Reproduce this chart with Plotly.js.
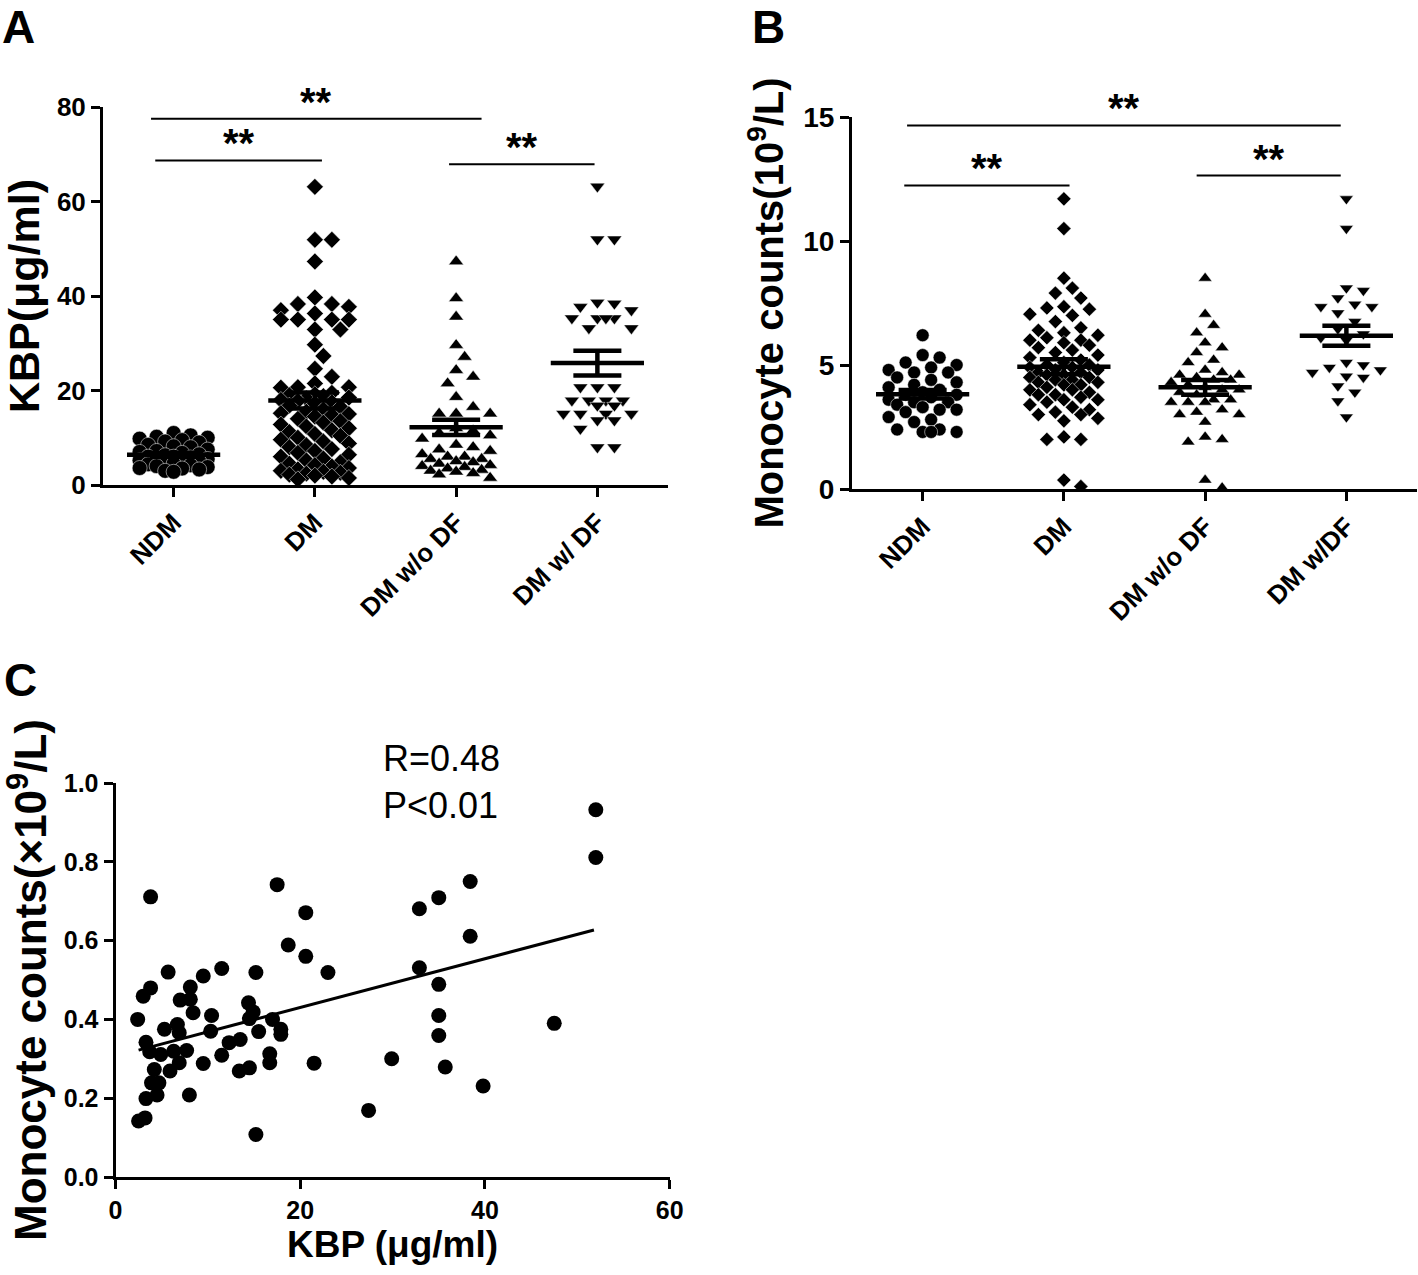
<!DOCTYPE html>
<html><head><meta charset="utf-8">
<script src="https://cdn.plot.ly/plotly-3.0.1.min.js"></script>
<style>html,body{margin:0;padding:0;background:#fff}#chart{width:1418px;height:1275px}</style>
</head><body><div id="chart"></div>
<script>
// ---------- data ----------
const categoriesA = ['NDM', 'DM', 'DM w/o DF', 'DM w/ DF'];
const categoriesB = ['NDM', 'DM', 'DM w/o DF', 'DM w/DF'];

// Panel A: KBP (µg/ml)
const kbpNDM = [11.0, 10.5, 10.2, 10.0, 9.8, 9.5, 9.2, 9.0, 8.5, 8.2, 8.0, 7.5, 7.2, 7.0, 6.8, 6.5, 6.3, 6.0, 6.0, 5.8,
  5.5, 5.4, 5.2, 5.0, 5.0, 4.8, 4.5, 4.4, 4.2, 4.0, 3.8, 3.6, 3.5, 3.3, 3.0, 2.8];
const kbpDM = [63.1, 51.9, 51.9, 47.3, 39.7, 38.3, 37.7, 38.3, 37.0, 36.3, 35.0, 35.0, 35.0, 35.0, 32.9, 32.9, 29.7, 27.3,
  24.6, 22.9, 20.7, 21.5, 20.7, 20.6,
  19.5, 19.2, 19.0, 18.8, 18.5, 18.3, 18.0, 17.8, 17.5, 17.2, 16.8, 16.5, 16.0, 15.5, 15.2, 15.0, 14.8, 14.5, 14.0, 13.5,
  13.2, 12.8, 12.4, 12.0, 11.6, 11.2, 10.8, 10.4, 10.0, 9.6, 9.2, 8.8, 8.4, 8.0, 7.6, 7.2, 6.8, 6.4, 6.0, 5.6,
  5.2, 4.8, 4.5, 4.2, 3.9, 3.6, 3.3, 3.0, 2.8, 2.6, 2.4, 2.2, 2.0, 1.8, 1.5, 1.2];
const kbpDMwoDF = [47.3, 39.5, 35.6, 29.6, 27.1, 24.3, 22.9, 21.5, 18.6, 16.5, 15.1, 15.1, 15.1, 12.0, 11.5, 11.0, 10.5,
  9.8, 8.5, 8.0, 7.5, 7.2, 6.5, 6.0, 6.0, 5.5, 5.5, 5.0, 4.8, 4.5, 4.2, 4.0, 3.8, 3.5, 3.2, 3.0, 2.8, 2.5, 2.2, 1.5];
const kbpDMwDF = [63.2, 52.0, 52.0, 38.6, 38.4, 37.7, 37.0, 35.3, 35.3, 35.3, 35.3, 33.2, 33.2, 20.7, 20.7, 20.7,
  17.9, 17.9, 17.9, 17.9, 16.8, 16.8, 15.1, 15.1, 15.1, 15.1, 13.7, 13.7, 11.9, 8.0, 8.0];
const kbpMean = [6.4, 17.9, 12.2, 25.8];
const kbpSEM = [0.4, 1.7, 1.6, 2.6];

// Panel B: monocyte counts (10^9/L)
const monoNDM = [6.2, 5.4, 5.3, 5.1, 5.0, 4.9, 4.8, 4.7, 4.7, 4.5, 4.4, 4.3, 4.2, 4.1, 4.0, 3.9, 3.8, 3.8, 3.7, 3.6,
  3.5, 3.5, 3.4, 3.3, 3.2, 3.2, 3.1, 2.9, 2.8, 2.7, 2.4, 2.4, 2.3, 2.3, 2.3];
const monoDM = [11.7, 10.5, 8.5, 8.1, 7.9, 7.7, 7.35, 7.3, 7.25, 7.05, 7.0, 6.75, 6.5, 6.4, 6.3, 6.2, 6.1, 6.0, 6.0, 5.9,
  5.8, 5.7, 5.6, 5.5, 5.4, 5.3, 5.2, 5.1, 5.0, 5.0, 4.9, 4.9, 4.8, 4.8, 4.7, 4.7, 4.6, 4.6, 4.5, 4.5,
  4.4, 4.4, 4.3, 4.3, 4.2, 4.2, 4.1, 4.0, 4.0, 3.9, 3.8, 3.8, 3.7, 3.6, 3.6, 3.5, 3.4, 3.3, 3.2, 3.1,
  3.0, 3.0, 2.85, 2.75, 2.1, 2.0, 2.0, 0.36, 0.1];
const monoDMwoDF = [8.5, 7.05, 6.6, 6.3, 5.9, 5.7, 5.5, 5.2, 5.1, 4.8, 4.7, 4.6, 4.6, 4.5, 4.4, 4.4, 4.3, 4.2, 4.1, 4.0,
  4.0, 3.9, 3.8, 3.6, 3.6, 3.5, 3.5, 3.5, 3.2, 3.1, 3.0, 3.0, 2.7, 2.1, 2.0, 1.9, 0.36, 0.05];
const monoDMwDF = [11.7, 10.5, 8.1, 8.0, 7.7, 7.45, 7.35, 7.35, 7.1, 6.75, 6.45, 6.25, 6.1, 6.0, 5.1, 5.0, 4.9, 4.8,
  4.7, 4.55, 4.5, 4.15, 3.9, 3.55, 2.9];
const monoMean = [3.82, 4.93, 4.10, 6.18];
const monoSEM = [0.17, 0.30, 0.30, 0.40];

// Panel C: correlation
const corrKBP = [52.0, 52.0, 38.4, 17.5, 3.8, 35.0, 32.9, 20.6, 38.4, 18.7,
  20.6, 5.7, 11.5, 15.2, 23.0, 9.5, 32.9, 35.0, 3.8, 3.0,
  8.1, 7.0, 8.1, 8.4, 14.4, 14.9, 10.4, 2.4, 14.5, 17.0,
  35.0, 5.3, 6.7, 10.3, 15.5, 17.9, 17.9, 47.5, 6.9, 35.0,
  3.3, 13.5, 12.3, 3.7, 4.9, 7.7, 6.3, 11.5, 16.7, 4.2,
  5.9, 6.9, 9.5, 16.7, 21.5, 29.9, 13.4, 14.5, 35.7, 3.9,
  4.7, 4.5, 3.3, 8.0, 39.8, 27.4, 2.5, 3.2, 15.2];
const corrMono = [0.932, 0.811, 0.750, 0.742, 0.711, 0.709, 0.681, 0.671, 0.611, 0.589,
  0.560, 0.520, 0.529, 0.519, 0.519, 0.510, 0.531, 0.489, 0.480, 0.459,
  0.482, 0.449, 0.451, 0.417, 0.442, 0.419, 0.410, 0.400, 0.402, 0.400,
  0.410, 0.375, 0.387, 0.370, 0.369, 0.375, 0.362, 0.390, 0.366, 0.359,
  0.342, 0.349, 0.341, 0.318, 0.311, 0.321, 0.319, 0.309, 0.313, 0.273,
  0.269, 0.290, 0.288, 0.290, 0.289, 0.300, 0.269, 0.277, 0.279, 0.239,
  0.239, 0.208, 0.199, 0.208, 0.231, 0.169, 0.142, 0.150, 0.108];
const fitKBP = [2.5, 51.8];
const fitMono = [0.322, 0.627];
const statText = ['R=0.48', 'P&lt;0.01'];

// significance brackets: [start category, end category, height], label
const sigA = [[-0.16, 2.18, 77.5], [-0.13, 1.05, 68.7], [1.95, 2.98, 67.9]];
const sigB = [[-0.11, 2.96, 14.66], [-0.13, 1.04, 12.24], [1.94, 2.96, 12.64]];
const sigLabel = '**';

// ---------- geometry (pixels) ----------
const W = 1418, H = 1275;
const boxA = {l: 103, r: 668, t: 107, b: 485};
const boxB = {l: 852, r: 1417, t: 117, b: 489};
const boxC = {l: 115.5, r: 669.7, t: 783, b: 1177};
const dom = (b) => ({x: [b.l / W, b.r / W], y: [1 - b.b / H, 1 - b.t / H]});
const dA = dom(boxA), dB = dom(boxB), dC = dom(boxC);

// GraphPad-like scatter-dot spreading, done in pixel space
function swarm(vals, center, pxX, pxY, step, minDist, maxOff) {
  const order = vals.map((v, i) => i).sort((a, b) => vals[b] - vals[a]);
  const placed = [];
  const xs = new Array(vals.length);
  const cands = [0];
  for (let k = 1; k * step <= maxOff + 0.01; k++) { cands.push(k * step, -k * step); }
  for (const i of order) {
    const yp = vals[i] * pxY;
    let best = null, bestD = -1;
    for (const c of cands) {
      let d = Infinity;
      for (const p of placed) { d = Math.min(d, Math.hypot(p.x - c, p.y - yp)); }
      if (d >= minDist) { best = c; bestD = d; break; }
      if (d > bestD + 0.5) { bestD = d; best = c; }
    }
    placed.push({x: best, y: yp});
    xs[i] = center + best / pxX;
  }
  return xs;
}

const pxXA = (boxA.r - boxA.l) / 4, pxYA = (boxA.b - boxA.t) / 80;
const pxXB = (boxB.r - boxB.l) / 4, pxYB = (boxB.b - boxB.t) / 15;

const groupsA = [kbpNDM, kbpDM, kbpDMwoDF, kbpDMwDF];
const groupsB = [monoNDM, monoDM, monoDMwoDF, monoDMwDF];
const symbols = ['circle', 'diamond', 'triangle-up', 'triangle-down'];
const sizesA = [15, 13, 13, 13];
const sizesB = [13, 11, 12, 12];

const traces = [];
groupsA.forEach((g, i) => {
  traces.push({type: 'scatter', mode: 'markers', xaxis: 'x', yaxis: 'y',
    x: swarm(g, i, pxXA, pxYA, 8.5, 14, 35), y: g,
    marker: {symbol: symbols[i], size: sizesA[i], color: '#000', line: {color: '#fff', width: 0.5}},
    hoverinfo: 'y', showlegend: false});
});
groupsB.forEach((g, i) => {
  traces.push({type: 'scatter', mode: 'markers', xaxis: 'x2', yaxis: 'y2',
    x: swarm(g, i, pxXB, pxYB, 8.5, 13, 35), y: g,
    marker: {symbol: symbols[i], size: sizesB[i], color: '#000', line: {color: '#fff', width: 0.5}},
    hoverinfo: 'y', showlegend: false});
});

function meanSem(means, sems, xa, ya, hm, hs) {
  const x = [], y = [];
  means.forEach((m, i) => {
    x.push(i - hm, i + hm, null); y.push(m, m, null);
    x.push(i - hs, i + hs, null); y.push(m + sems[i], m + sems[i], null);
    x.push(i - hs, i + hs, null); y.push(m - sems[i], m - sems[i], null);
    x.push(i, i, null); y.push(m - sems[i], m + sems[i], null);
  });
  return {type: 'scatter', mode: 'lines', x, y, xaxis: xa, yaxis: ya,
    line: {color: '#000', width: 4.5}, hoverinfo: 'skip', showlegend: false};
}
traces.push(meanSem(kbpMean, kbpSEM, 'x', 'y', 0.33, 0.17));
traces.push(meanSem(monoMean, monoSEM, 'x2', 'y2', 0.33, 0.17));

function brackets(sig, xa, ya) {
  const x = [], y = [];
  sig.forEach(s => { x.push(s[0], s[1], null); y.push(s[2], s[2], null); });
  return {type: 'scatter', mode: 'lines', x, y, xaxis: xa, yaxis: ya, cliponaxis: false,
    line: {color: '#000', width: 2}, hoverinfo: 'skip', showlegend: false};
}
traces.push(brackets(sigA, 'x', 'y'));
traces.push(brackets(sigB, 'x2', 'y2'));

traces.push({type: 'scatter', mode: 'markers', xaxis: 'x3', yaxis: 'y3', x: corrKBP, y: corrMono,
  marker: {symbol: 'circle', size: 15, color: '#000'}, hoverinfo: 'x+y', showlegend: false});
traces.push({type: 'scatter', mode: 'lines', xaxis: 'x3', yaxis: 'y3', x: fitKBP, y: fitMono,
  line: {color: '#000', width: 3}, hoverinfo: 'skip', showlegend: false});

// ---------- layout ----------
const FONT = 'Arial, "Liberation Sans", Helvetica, sans-serif';
const bold = (size) => ({family: FONT, size, color: '#000', weight: 'bold'});
const axBase = {showline: true, linecolor: '#000', linewidth: 3, ticks: 'outside', ticklen: 9, tickwidth: 3,
  tickcolor: '#000', showgrid: false, zeroline: false, automargin: false, tickfont: bold(26)};
const catAxis = (d, anchor, labels) => Object.assign({}, axBase, {domain: d, anchor, range: [-0.5, 3.5],
  tickmode: 'array', tickvals: [0, 1, 2, 3], ticktext: labels, tickangle: -45, tickfont: bold(26)});

const annotations = [];
const letter = (t, x, y) => annotations.push({text: t, xref: 'paper', yref: 'paper', x: x / W, y: 1 - y / H,
  xanchor: 'left', yanchor: 'top', showarrow: false, font: bold(46)});
letter('A', 0, -1); letter('B', 750, -1); letter('C', 2, 652);

sigA.forEach(s => annotations.push({text: sigLabel, xref: 'x', yref: 'y', x: (s[0] + s[1]) / 2, y: s[2],
  yanchor: 'bottom', yshift: -7, showarrow: false, font: bold(40)}));
sigB.forEach(s => annotations.push({text: sigLabel, xref: 'x2', yref: 'y2', x: (s[0] + s[1]) / 2, y: s[2],
  yanchor: 'bottom', yshift: -7, showarrow: false, font: bold(40)}));
annotations.push({text: statText.join('<br>'), xref: 'paper', yref: 'paper', x: 381 / W, y: 1 - 736 / H,
  xanchor: 'left', yanchor: 'top', align: 'left', showarrow: false,
  font: {family: FONT, size: 36, color: '#000'}});

const layout = {
  width: W, height: H, margin: {l: 0, r: 0, t: 0, b: 0}, paper_bgcolor: '#fff', plot_bgcolor: 'rgba(0,0,0,0)',
  showlegend: false, font: {family: FONT, color: '#000'},
  xaxis: catAxis(dA.x, 'y', categoriesA),
  yaxis: Object.assign({}, axBase, {domain: dA.y, anchor: 'x', range: [0, 80], tickvals: [0, 20, 40, 60, 80],
    title: {text: 'KBP(μg/ml)', standoff: 8, font: bold(43)}}),
  xaxis2: catAxis(dB.x, 'y2', categoriesB),
  yaxis2: Object.assign({}, axBase, {domain: dB.y, anchor: 'x2', range: [0, 15], tickvals: [0, 5, 10, 15],
    tickfont: bold(28),
    title: {text: 'Monocyte counts(10<sup>9</sup>/L)', standoff: 8, font: bold(40)}}),
  xaxis3: Object.assign({}, axBase, {domain: dC.x, anchor: 'y3', range: [0, 60], tickvals: [0, 20, 40, 60],
    tickfont: bold(25),
    title: {text: 'KBP (μg/ml)', standoff: 4, font: bold(37)}}),
  yaxis3: Object.assign({}, axBase, {domain: dC.y, anchor: 'x3', range: [0, 1.0], tickvals: [0, 0.2, 0.4, 0.6, 0.8, 1.0],
    tickformat: '.1f', tickfont: bold(25),
    title: {text: 'Monocyte counts(×10<sup>9</sup>/L)', standoff: 8, font: bold(44)}}),
  annotations
};

Plotly.newPlot('chart', traces, layout, {staticPlot: true, displayModeBar: false});
</script>
</body></html>
